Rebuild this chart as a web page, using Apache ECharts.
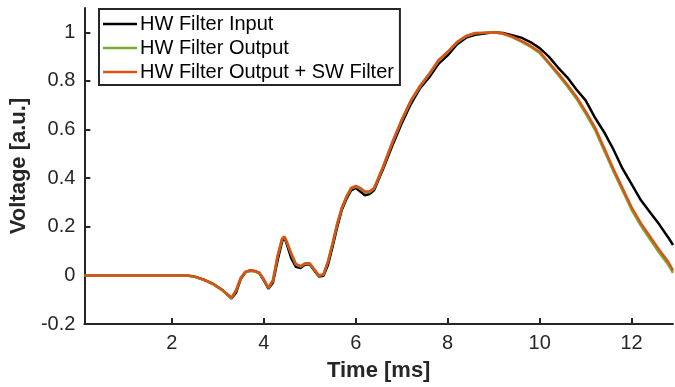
<!DOCTYPE html>
<html>
<head>
<meta charset="utf-8">
<script src="https://cdn.jsdelivr.net/npm/echarts@6/dist/echarts.min.js"></script>
<style>
html,body{margin:0;padding:0;background:#fff;}
#chart{width:675px;height:387px;}
</style>
</head>
<body>
<div id="chart"></div>
<script>
const time = [0.1, 2.3, 2.5, 2.7, 2.9, 3.1, 3.2, 3.3, 3.4, 3.5, 3.6, 3.7, 3.8, 3.9, 4.0, 4.1, 4.2, 4.3, 4.4, 4.45,
  4.5, 4.6, 4.7, 4.8, 4.9, 5.0, 5.1, 5.2, 5.3, 5.4, 5.5, 5.6, 5.7, 5.8, 5.9, 6.0, 6.1, 6.2, 6.3, 6.4, 6.5, 6.6,
  6.8, 7.0, 7.2, 7.4, 7.6, 7.8, 8.0, 8.2, 8.4, 8.6, 8.8, 9.0, 9.2, 9.4, 9.6, 9.8, 10.0, 10.2, 10.4, 10.6, 10.8,
  11.0, 11.2, 11.4, 11.6, 11.8, 12.0, 12.2, 12.4, 12.6, 12.8, 12.9];

const hwInput = [0, 0, -0.005, -0.018, -0.035, -0.06, -0.078, -0.095, -0.07, -0.015, 0.012, 0.02, 0.018, 0.01, -0.02, -0.055, -0.03, 0.06, 0.14, 0.155,
  0.13, 0.07, 0.035, 0.03, 0.045, 0.045, 0.02, -0.005, -0.002, 0.045, 0.12, 0.2, 0.27, 0.315, 0.35, 0.36, 0.345, 0.33, 0.335, 0.35, 0.395, 0.44,
  0.535, 0.625, 0.705, 0.77, 0.815, 0.87, 0.905, 0.95, 0.978, 0.99, 0.995, 1.0, 0.997, 0.988, 0.978, 0.96, 0.935, 0.9, 0.855, 0.815, 0.765,
  0.72, 0.65, 0.59, 0.52, 0.44, 0.375, 0.31, 0.26, 0.21, 0.155, 0.125];

const hwOutput = [0, 0, -0.006, -0.019, -0.037, -0.062, -0.077, -0.094, -0.062, -0.012, 0.013, 0.018, 0.016, 0.01, -0.017, -0.052, -0.022, 0.077, 0.149, 0.157,
  0.137, 0.087, 0.045, 0.036, 0.048, 0.048, 0.023, -0.002, 0.003, 0.057, 0.132, 0.212, 0.277, 0.322, 0.357, 0.365, 0.357, 0.342, 0.342, 0.357, 0.402, 0.447,
  0.547, 0.637, 0.717, 0.777, 0.827, 0.882, 0.918, 0.958, 0.984, 0.996, 0.998, 1.0, 0.994, 0.98, 0.962, 0.941, 0.915, 0.871, 0.826, 0.778, 0.727,
  0.666, 0.6, 0.515, 0.43, 0.35, 0.27, 0.205, 0.148, 0.093, 0.043, 0.01];

const hwOutputSw = [0, 0, -0.005, -0.018, -0.035, -0.06, -0.075, -0.092, -0.06, -0.01, 0.015, 0.02, 0.018, 0.012, -0.015, -0.05, -0.02, 0.08, 0.152, 0.16,
  0.14, 0.09, 0.047, 0.038, 0.05, 0.05, 0.025, 0.0, 0.005, 0.06, 0.135, 0.215, 0.28, 0.325, 0.36, 0.368, 0.36, 0.345, 0.345, 0.36, 0.405, 0.45,
  0.55, 0.64, 0.72, 0.78, 0.83, 0.885, 0.92, 0.96, 0.985, 0.997, 0.998, 1.0, 0.995, 0.982, 0.965, 0.945, 0.92, 0.876, 0.832, 0.785, 0.735,
  0.675, 0.61, 0.525, 0.44, 0.36, 0.28, 0.215, 0.16, 0.105, 0.055, 0.02];

const seriesNames = ['HW Filter Input', 'HW Filter Output', 'HW Filter Output + SW Filter'];
const seriesColors = ['#000000', '#77AC30', '#D95319'];
const xTicks = [2, 4, 6, 8, 10, 12];
const yTicks = [-0.2, 0, 0.2, 0.4, 0.6, 0.8, 1];

const font = '"Liberation Sans", Arial, Helvetica, sans-serif';
const axisColor = '#262626';
const chart = echarts.init(document.getElementById('chart'), null, {renderer: 'canvas'});
const allData = [hwInput, hwOutput, hwOutputSw];

chart.setOption({
  animation: false,
  backgroundColor: '#fff',
  grid: {left: 83, right: 2, top: 8, bottom: 62, containLabel: false},
  legend: {
    left: 99, top: 9, orient: 'vertical',
    icon: 'rect', itemWidth: 34, itemHeight: 2.5, itemGap: 4,
    padding: [5, 6, 3, 4],
    borderColor: axisColor, borderWidth: 2,
    backgroundColor: '#fff',
    textStyle: {fontFamily: font, fontSize: 20, color: '#000', lineHeight: 20, padding: [0, 0, 0, -2]},
    data: seriesNames
  },
  xAxis: {
    type: 'value', min: 0.1, max: 12.9,
    name: 'Time [ms]', nameLocation: 'middle', nameGap: 36,
    nameTextStyle: {fontFamily: font, fontSize: 22, fontWeight: 'bold', color: axisColor},
    axisLine: {show: true, onZero: false, lineStyle: {color: axisColor, width: 2}},
    axisTick: {show: true, inside: true, length: 6, customValues: xTicks, lineStyle: {color: axisColor, width: 2}},
    axisLabel: {customValues: xTicks, fontFamily: font, fontSize: 20, color: axisColor, margin: 9},
    splitLine: {show: false}
  },
  yAxis: {
    type: 'value', min: -0.2, max: 1.1,
    name: 'Voltage [a.u.]', nameLocation: 'middle', nameGap: 45, nameRotate: 90,
    nameTextStyle: {fontFamily: font, fontSize: 22, fontWeight: 'bold', color: axisColor},
    axisLine: {show: true, onZero: false, lineStyle: {color: axisColor, width: 2}},
    axisTick: {show: true, inside: true, length: 6, customValues: yTicks, lineStyle: {color: axisColor, width: 2}},
    axisLabel: {customValues: yTicks, fontFamily: font, fontSize: 20, color: axisColor, margin: 9},
    splitLine: {show: false}
  },
  series: seriesNames.map((name, k) => ({
    name: name,
    type: 'line',
    symbol: 'none',
    showSymbol: false,
    z: 2 + k,
    color: seriesColors[k],
    lineStyle: {color: seriesColors[k], width: 2.5},
    data: time.map((t, i) => [t, allData[k][i]])
  }))
});
</script>
</body>
</html>
